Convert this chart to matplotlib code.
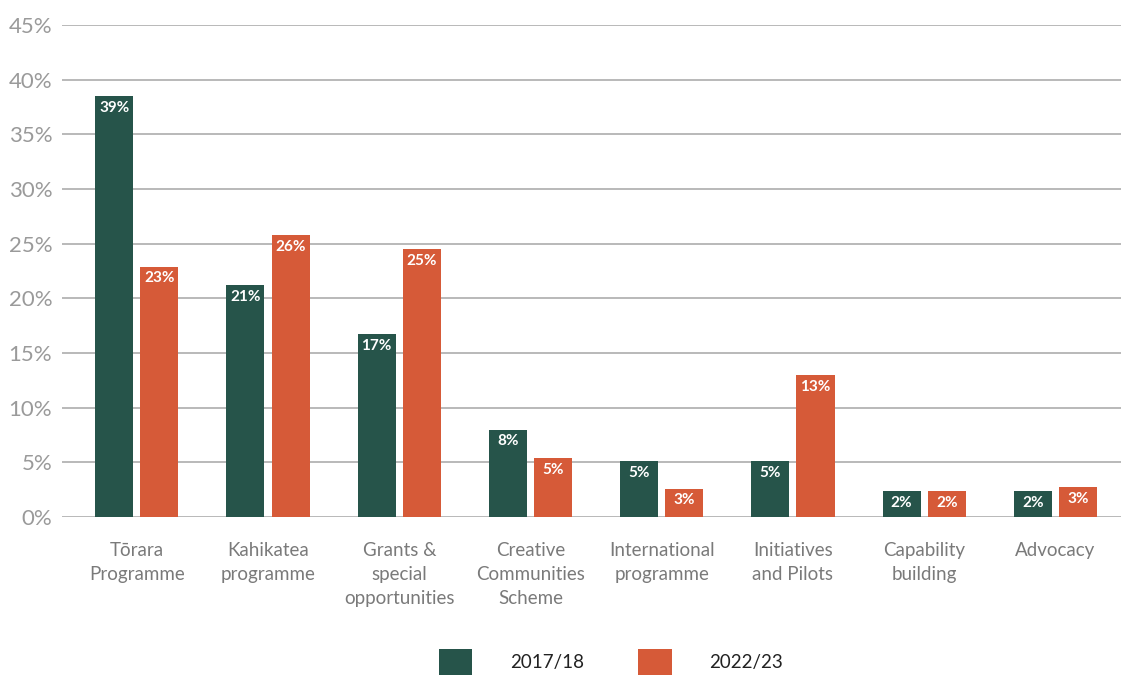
import math

import matplotlib
matplotlib.use('Agg')
import matplotlib.pyplot as plt
import numpy as np
from matplotlib.patches import Patch

categories = ['Tōrara\nProgramme', 'Kahikatea\nprogramme', 'Grants &\nspecial\nopportunities',
              'Creative\nCommunities\nScheme', 'International\nprogramme', 'Initiatives\nand Pilots',
              'Capability\nbuilding', 'Advocacy']
years = ['2017/18', '2022/23']
share_2017 = [38.5, 21.2, 16.7, 8.0, 5.1, 5.1, 2.4, 2.4]
share_2022 = [22.9, 25.8, 24.5, 5.4, 2.6, 13.0, 2.4, 2.7]
y_ticks = [0, 5, 10, 15, 20, 25, 30, 35, 40, 45]

GREEN = '#26544a'
ORANGE = '#d65a38'
GRID = '#a6a6a6'


def pct(v):
    ''' round half up, whole percent '''
    return '{}%'.format(int(math.floor(v + 0.5)))


def main():
    plt.rcParams['font.family'] = ['Lato', 'DejaVu Sans']

    fig = plt.figure(figsize=(11.21, 6.76), dpi=100)
    ax = fig.add_axes([62 / 1121, 159 / 676, 1 - 62 / 1121, 492 / 676])

    x = np.arange(len(categories))
    w = 0.29
    off = 0.172
    b1 = ax.bar(x - off, share_2017, w, color=GREEN, zorder=3)
    b2 = ax.bar(x + off, share_2022, w, color=ORANGE, zorder=3)

    for bars, vals in ((b1, share_2017), (b2, share_2022)):
        for rect, v in zip(bars, vals):
            ax.annotate(pct(v), (rect.get_x() + rect.get_width() / 2, v),
                        xytext=(0, -8.5), textcoords='offset points',
                        ha='center', va='center', color='white',
                        fontsize=11, fontweight='bold', zorder=4)

    ax.set_ylim(0, 45)
    ax.set_xlim(-0.57, 7.5)
    ax.set_yticks(y_ticks)
    ax.set_yticklabels(['{}%'.format(t) for t in y_ticks])
    ax.set_xticks(x)
    ax.set_xticklabels(categories, linespacing=1.5)
    ax.tick_params(axis='y', length=0, pad=7, labelsize=16, labelcolor='#9a9a9a')
    ax.tick_params(axis='x', length=0, pad=18, labelsize=13.5, labelcolor='#7a7a7a')
    for lbl in ax.get_xticklabels():
        lbl.set_verticalalignment('top')

    ax.grid(axis='y', color=GRID, linewidth=1.1, zorder=0)
    for s in ax.spines.values():
        s.set_visible(False)

    handles = [Patch(facecolor=GREEN), Patch(facecolor=ORANGE)]
    fig.legend(handles, years, loc='center', bbox_to_anchor=(0.545, 0.021),
               ncol=2, frameon=False, fontsize=13.5, handlelength=1.8,
               handleheight=1.75, handletextpad=2.0, columnspacing=2.9,
               labelcolor='#222222')

    fig.savefig('out.png', dpi=100)


if __name__ == "__main__":
    main()
